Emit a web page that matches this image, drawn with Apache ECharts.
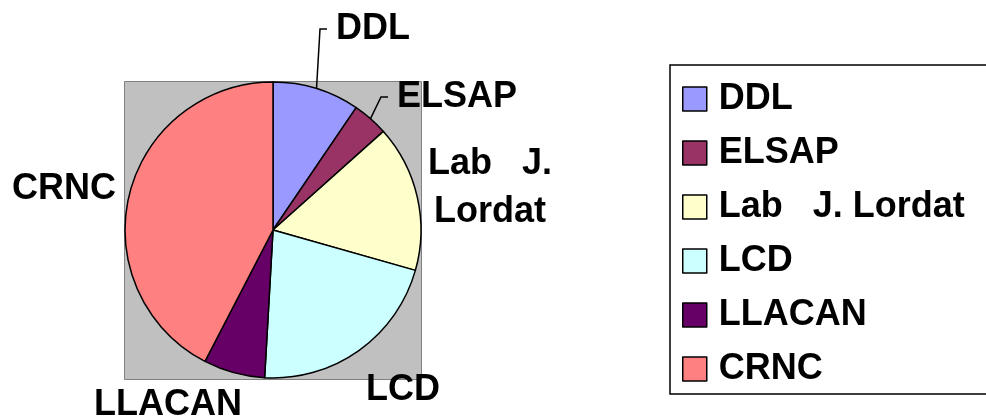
<!DOCTYPE html>
<html>
<head>
<meta charset="utf-8">
<script src="https://cdn.jsdelivr.net/npm/echarts@6/dist/echarts.min.js"></script>
<style>
  html, body { margin: 0; padding: 0; background: #fff; }
  #chart { width: 986px; height: 419px; }
</style>
</head>
<body>
<div id="chart"></div>
<script>
// share of each lab (percent)
const labs = ['DDL', 'ELSAP', 'Lab   J. Lordat', 'LCD', 'LLACAN', 'CRNC']
const shares = [9.5, 3.9, 16.0, 21.5, 6.7, 42.4]
const colors = ['#9999ff', '#993366', '#ffffcc', '#ccffff', '#660066', '#ff8080']

// where each slice label sits (text anchor), and whether it has a leader line
const labelPos = [
  { x: 336, y: 29, align: 'left' },
  { x: 397, y: 97, align: 'left' },
  { x: 490, y: 188, align: 'center' },
  { x: 403, y: 390, align: 'center' },
  { x: 168, y: 405, align: 'center' },
  { x: 64, y: 189, align: 'center' }
]
const withLine = [true, true, false, false, false, false]

const font = 'Liberation Sans, Arial, sans-serif'

const chart = echarts.init(document.getElementById('chart'))

chart.setOption({
  animation: false,
  color: colors,
  graphic: [{
    type: 'rect',
    left: 124,
    top: 81,
    z: 0,
    shape: { width: 297, height: 298 },
    style: { fill: '#c0c0c0', stroke: '#808080', lineWidth: 1 }
  }],
  legend: {
    orient: 'vertical',
    left: 670,
    top: 65,
    padding: [16, 40, 7, 12],
    itemWidth: 24,
    itemHeight: 24,
    itemGap: 18,
    icon: 'rect',
    borderColor: '#000',
    borderWidth: 1.5,
    backgroundColor: '#fff',
    selectedMode: false,
    itemStyle: { borderColor: '#000', borderWidth: 1.5 },
    textStyle: {
      fontFamily: font,
      fontSize: 36,
      fontWeight: 'bold',
      color: '#000',
      padding: [0, 0, 0, 7]
    },
    data: labs
  },
  series: [{
    type: 'pie',
    z: 2,
    center: [273, 230],
    radius: 148,
    startAngle: 90,
    clockwise: true,
    avoidLabelOverlap: false,
    itemStyle: { borderColor: '#000', borderWidth: 1.5 },
    emphasis: { disabled: true },
    label: {
      show: true,
      position: 'outside',
      fontFamily: font,
      fontSize: 36,
      fontWeight: 'bold',
      color: '#000',
      lineHeight: 48,
      formatter: p => p.name === 'Lab   J. Lordat' ? 'Lab   J.\nLordat' : p.name
    },
    labelLine: {
      show: true,
      lineStyle: { color: '#000', width: 1.5 }
    },
    labelLayout: p => {
      const pos = labelPos[p.dataIndex]
      const out = { x: pos.x, y: pos.y, align: pos.align, verticalAlign: 'middle' }
      if (withLine[p.dataIndex] && p.labelLinePoints) {
        // start on the arc where the pie put it, run up to the label, then a short tick
        const start = p.labelLinePoints[0]
        out.labelLinePoints = [start, [pos.x - 16, pos.y], [pos.x - 9, pos.y]]
      }
      return out
    },
    data: labs.map((name, i) => ({
      name,
      value: shares[i],
      labelLine: { show: withLine[i] }
    }))
  }]
})
</script>
</body>
</html>
